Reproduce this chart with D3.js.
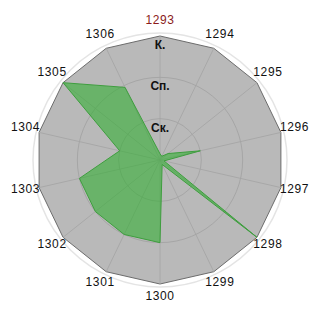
<!DOCTYPE html>
<html>
<head>
<meta charset="utf-8">
<script src="https://cdn.jsdelivr.net/npm/d3@7"></script>
<style>
  body { margin: 0; background: #fff; }
  text { font-family: "Liberation Sans", Arial, sans-serif; }
</style>
</head>
<body>
<div id="chart"></div>
<script>
// axis labels (clockwise from top)
const axes = ["1293", "1294", "1295", "1296", "1297", "1298", "1299",
              "1300", "1301", "1302", "1303", "1304", "1305", "1306"];
// values on the level scale 0..3 (Ск. = 1, Сп. = 2, К. = 3)
const values = [0.15, 0.1, 0.25, 1, 0.1, 3, 0.12, 2, 2, 2, 2, 1, 3, 1.95];
const levels = ["Ск.", "Сп.", "К."];
const levelValues = [1, 2, 3];

const width = 320, height = 320;
const cx = 160, cy = 160, R = 124;

const svg = d3.select("#chart").append("svg")
    .attr("width", width)
    .attr("height", height);

const g = svg.append("g").attr("transform", `translate(${cx},${cy})`);

const angle = d3.scalePoint()
    .domain(axes)
    .range([0, 2 * Math.PI * (axes.length - 1) / axes.length]);
const rScale = d3.scaleLinear().domain([0, 3]).range([0, R]);

const px = (a, r) => r * Math.sin(a);
const py = (a, r) => -r * Math.cos(a);

// faint outer ring
g.append("circle")
    .attr("r", R + 3)
    .attr("fill", "none")
    .attr("stroke", "#e4e4e4")
    .attr("stroke-width", 1.5);

// background polygon
const outer = axes.map(a => [px(angle(a), R), py(angle(a), R)]);
g.append("polygon")
    .attr("points", outer.map(p => p.join(",")).join(" "))
    .attr("fill", "#b9b9b9")
    .attr("stroke", "#6c6c6c")
    .attr("stroke-width", 1);

// grid circles
g.selectAll(".ring")
    .data(levelValues.slice(0, -1))
    .enter().append("circle")
    .attr("class", "ring")
    .attr("r", d => rScale(d))
    .attr("fill", "none")
    .attr("stroke", "#a6a6a6")
    .attr("stroke-width", 1);

// spokes
g.selectAll(".spoke")
    .data(axes)
    .enter().append("line")
    .attr("class", "spoke")
    .attr("x1", 0).attr("y1", 0)
    .attr("x2", d => px(angle(d), R))
    .attr("y2", d => py(angle(d), R))
    .attr("stroke", "#a3a3a3")
    .attr("stroke-width", 0.8);

// data area
const line = d3.lineRadial()
    .angle((d, i) => angle(axes[i]))
    .radius(d => rScale(d))
    .curve(d3.curveLinearClosed);

g.append("path")
    .attr("d", line(values))
    .attr("fill", "rgb(40,175,40)")
    .attr("fill-opacity", 0.55)
    .attr("stroke", "#3e9e3e")
    .attr("stroke-width", 1);

// level labels
g.selectAll(".lvl")
    .data(levels)
    .enter().append("text")
    .attr("class", "lvl")
    .attr("x", 0)
    .attr("y", (d, i) => -rScale(levelValues[i]) + 9)
    .attr("text-anchor", "middle")
    .attr("dominant-baseline", "central")
    .attr("font-size", 12)
    .attr("font-weight", "bold")
    .attr("fill", "#111")
    .text(d => d);

// axis labels
g.selectAll(".axlbl")
    .data(axes)
    .enter().append("text")
    .attr("class", "axlbl")
    .attr("x", d => px(angle(d), R + 14))
    .attr("y", d => py(angle(d), R + 14) - 2)
    .attr("text-anchor", "middle")
    .attr("dominant-baseline", "central")
    .attr("font-size", 12)
    .attr("letter-spacing", 0.6)
    .attr("fill", (d, i) => i === 0 ? "#8b1a1a" : "#111")
    .text(d => d);
</script>
</body>
</html>
